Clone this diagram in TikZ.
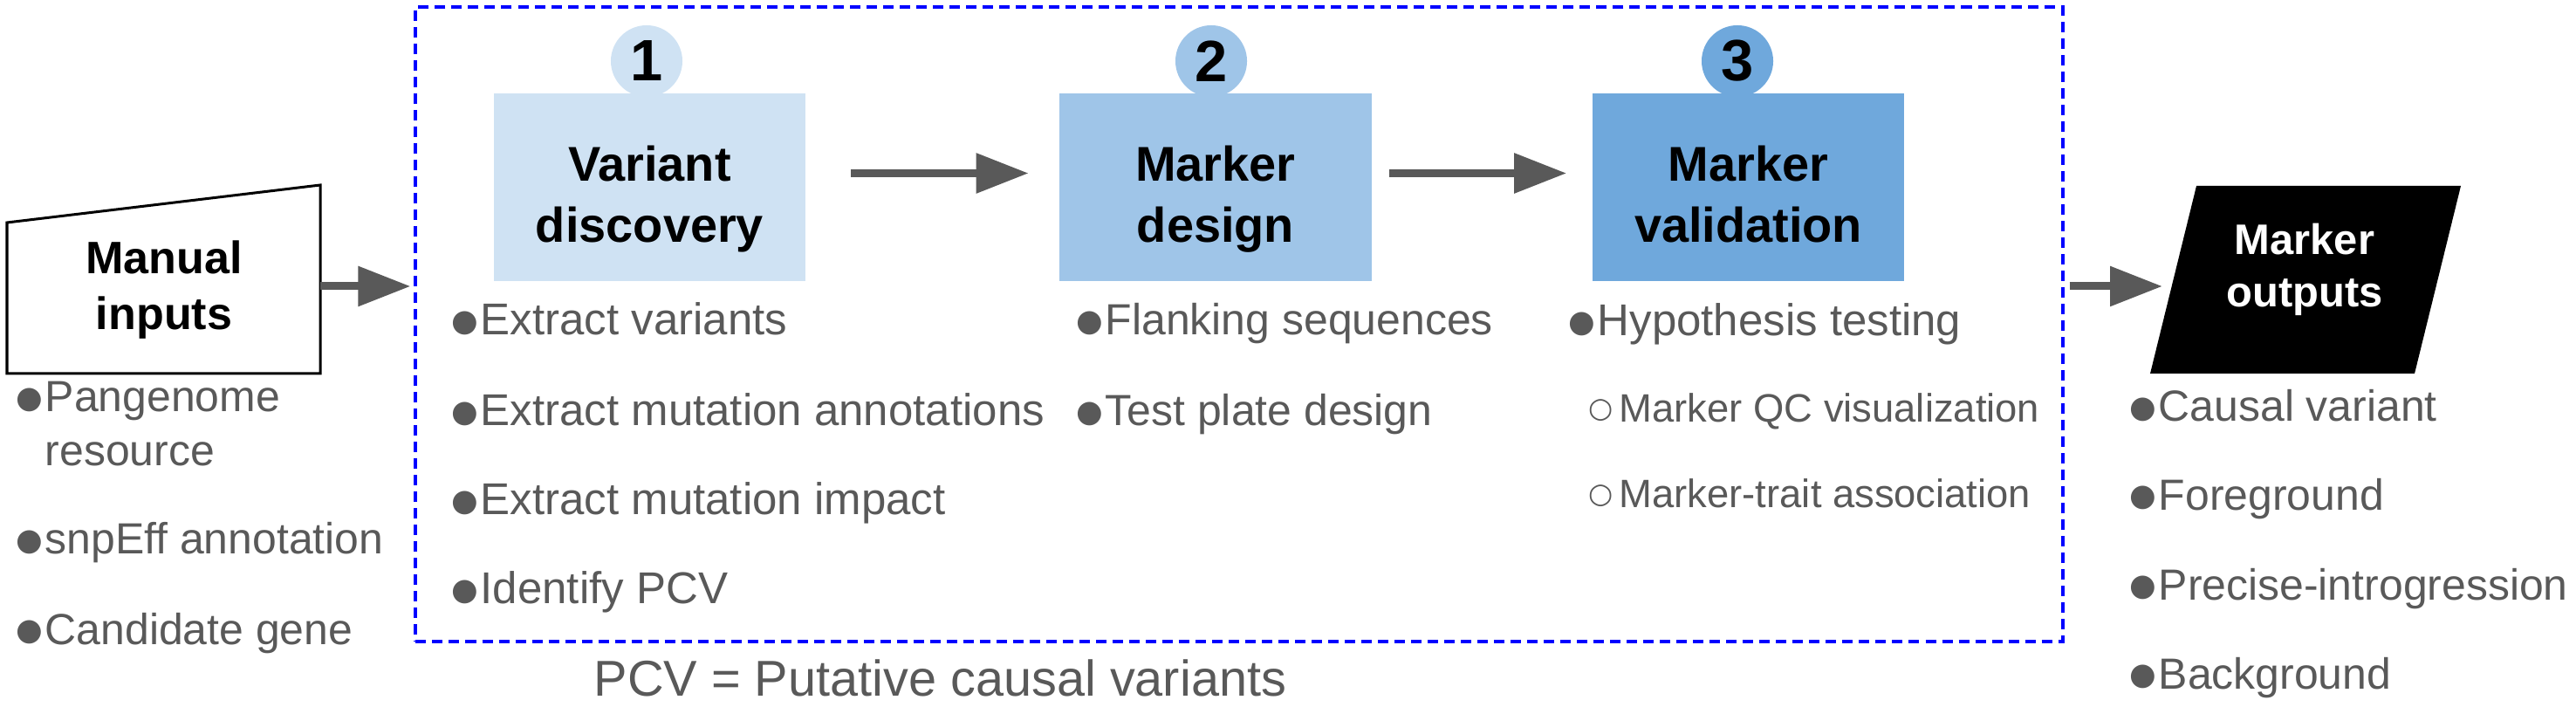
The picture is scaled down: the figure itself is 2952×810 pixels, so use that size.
\documentclass[tikz,border=0pt]{standalone}
\usepackage{fontspec}
\setmainfont{Liberation Sans}
\newfontfamily\dejavu{DejaVu Sans}
\usetikzlibrary{arrows.meta,positioning,calc}

\definecolor{stepone}{HTML}{CFE2F3}
\definecolor{steptwo}{HTML}{9FC5E8}
\definecolor{stepthree}{HTML}{6FA8DC}
\definecolor{txtgray}{HTML}{595959}

% bullets of the lists
\newcommand{\bul}{\makebox[0.33cm][l]{\raisebox{0.042cm}{\dejavu\fontsize{10pt}{10pt}\selectfont ●}}}
\newcommand{\hollow}{\makebox[0.35cm][l]{\raisebox{0.05cm}{\dejavu\fontsize{9.2pt}{9.2pt}\selectfont ○}}}

\tikzset{
  item/.style={anchor=base west, inner sep=0pt, text=txtgray,
    font=\fontsize{14.2pt}{17.4pt}\selectfont},
  wideitem/.style={item, font=\fontsize{14.5pt}{17.4pt}\selectfont},
  subitem/.style={item, font=\fontsize{12.9pt}{15pt}\selectfont},
  stepbox/.style={minimum width=3.57cm, minimum height=2.15cm, inner sep=0pt},
  steptext/.style={align=center, inner sep=0pt,
    font=\bfseries\fontsize{15.9pt}{19.9pt}\selectfont},
  stepnum/.style={circle, minimum size=0.82cm, inner sep=0pt,
    font=\bfseries\fontsize{19pt}{19pt}\selectfont},
  flow/.style={draw=txtgray, line width=0.09cm,
    -{Triangle[length=0.6cm,width=0.44cm]}},
}

\begin{document}
\begin{tikzpicture}[x=0.01cm,y=-0.01cm]
  \useasboundingbox (0,0) rectangle (2952,810);
% Manual inputs outline
  \draw[line width=0.03cm] (8,428) -- (367,428) -- (367,212) -- (8,255) -- cycle;
  \node[align=center, font=\bfseries\fontsize{14.8pt}{18.2pt}\selectfont] (manual) at (188,332) {Manual\\inputs};
  \coordinate (manualout) at (367,328);
% Manual inputs list
  \node[item] (pangenome) at (18,472) {\bul\begin{tabular}[t]{@{}l@{}}Pangenome\\resource\end{tabular}};
  \node[item] (snpeff) at (18,635) {\bul snpEff annotation};
  \node[item] (candidate) at (18,738) {\bul Candidate gene};

% Pipeline outline
  \node[draw=blue, line width=0.04cm, dash pattern=on 0.12cm off 0.07cm,
    minimum width=18.86cm, minimum height=7.27cm, inner sep=0pt] (pipeline) at (1420,371.5) {};
  \draw[flow] (manualout) -- ($(manualout -| pipeline.west)+(-4,0)$);

% Step 1
  \node[stepnum, fill=stepone] (numone) at (741,70) {1};
  \node[stepbox, fill=stepone] (discovery) at (744.5,214.5) {};
  \node[steptext] (discoverytxt) at ($(discovery)+(0,14)$) {Variant\\discovery};
  \node[wideitem] (extvar) at (517,384) {\bul Extract variants};
  \node[wideitem] (extann) at (517,488) {\bul Extract mutation annotations};
  \node[wideitem] (extimp) at (517,590) {\bul Extract mutation impact};
  \node[wideitem] (idpcv) at (517,692) {\bul Identify PCV};
% Step 2
  \node[stepnum, fill=steptwo] (numtwo) at (1388,70) {2};
  \node[stepbox, fill=steptwo] (design) at (1393,214.5) {};
  \node[steptext] (designtxt) at ($(design)+(0,14)$) {Marker\\design};
  \node[item] (flank) at (1233,384) {\bul Flanking sequences};
  \node[item] (plate) at (1233,488) {\bul Test plate design};
% Step 3
  \node[stepnum, fill=stepthree] (numthree) at (1991,70) {3};
  \node[stepbox, fill=stepthree] (validation) at (2003.5,214.5) {};
  \node[steptext] (validationtxt) at ($(validation)+(0,14)$) {Marker\\validation\vphantom{y}};
  \node[wideitem] (hypo) at (1797,385) {\bul Hypothesis testing};
  \node[subitem] (qcvis) at (1820,484) {\hollow Marker QC visualization};
  \node[subitem] (trait) at (1820,582) {\hollow Marker-trait association};
% Arrows between steps
  \draw[flow] ($(discovery.east)+(51,-16)$) -- ($(design.west)+(-35,-16)$);
  \draw[flow] ($(design.east)+(20,-16)$) -- ($(validation.west)+(-29,-16)$);
% Legend
  \node[item, font=\fontsize{16.4pt}{19pt}\selectfont] (pcvnote) at (680,797) {PCV = Putative causal variants};

% Marker outputs outline
  \fill (2464,428) -- (2767,428) -- (2820,213) -- (2517,213) -- cycle;
  \node[align=center, text=white, font=\bfseries\fontsize{13.9pt}{17.1pt}\selectfont] (outputs) at (2641,309) {Marker\\outputs};
  \coordinate (outputsin) at (2478,328);
  \draw[flow] ($(pipeline.east |- outputsin)+(6,0)$) -- (outputsin);
% Marker outputs list
  \node[item] (causal) at (2440,483) {\bul Causal variant};
  \node[item] (fore) at (2440,584) {\bul Foreground};
  \node[item] (precise) at (2440,687) {\bul Precise-introgression};
  \node[item] (back) at (2440,789) {\bul Background};
\end{tikzpicture}
\end{document}
